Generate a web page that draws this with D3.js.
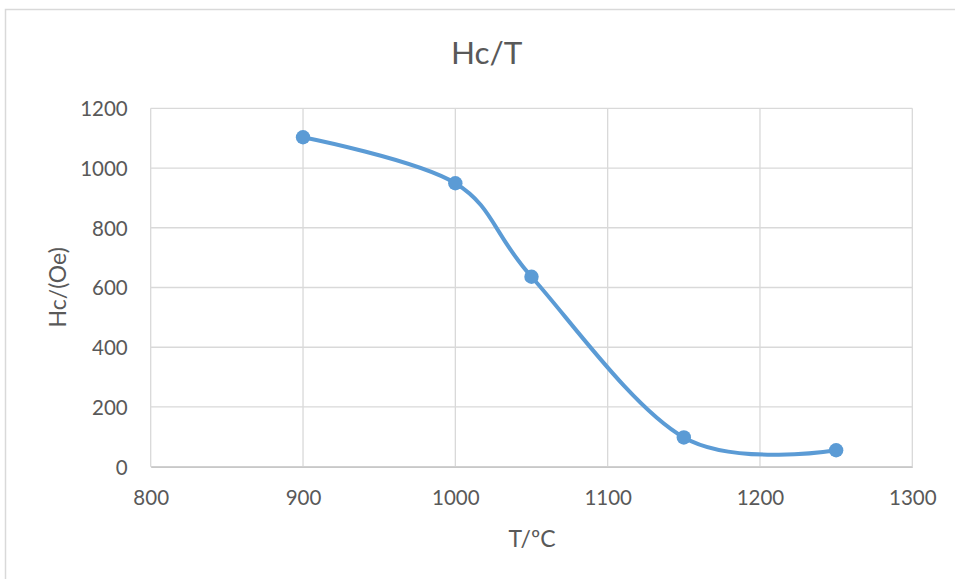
<!DOCTYPE html>
<html>
<head>
<meta charset="utf-8">
<script src="https://cdnjs.cloudflare.com/ajax/libs/d3/7.8.5/d3.min.js"></script>
<style>
    body { margin: 0; background: #ffffff; }
    svg text { font-family: Lato, "Open Sans", sans-serif; fill: #595959; }
</style>
</head>
<body>
<script>
//chart values
var temps = [900, 1000, 1050, 1150, 1250];
var hcValues = [1103, 949, 636, 98, 55];
var xTicks = [800, 900, 1000, 1100, 1200, 1300];
var yTicks = [0, 200, 400, 600, 800, 1000, 1200];
var chartTitle = "Hc/T",
    xTitle = "T/ºC",
    yTitle = "Hc/(Oe)";

function drawChart(){
    var width = 955,
        height = 579;

    var svg = d3.select("body")
        .append("svg")
        .attr("width", width)
        .attr("height", height);

    //outer chart border (runs off right and bottom)
    svg.append("rect")
        .attr("x", 5.5)
        .attr("y", 9.5)
        .attr("width", 960)
        .attr("height", 600)
        .attr("fill", "none")
        .attr("stroke", "#d9d9d9")
        .attr("stroke-width", 1.5);

    //plot area edges
    var left = 150.7, right = 912.3, top = 108.3, bottom = 466.7;

    var x = d3.scaleLinear()
        .domain([800, 1300])
        .range([left, right]);

    var y = d3.scaleLinear()
        .domain([0, 1200])
        .range([bottom, top]);

    //vertical gridlines
    svg.selectAll(".vgrid")
        .data(xTicks)
        .enter()
        .append("line")
        .attr("class", "vgrid")
        .attr("x1", function(d){ return x(d); })
        .attr("x2", function(d){ return x(d); })
        .attr("y1", top)
        .attr("y2", bottom)
        .attr("stroke", "#d9d9d9")
        .attr("stroke-width", 1.3);

    //horizontal gridlines
    svg.selectAll(".hgrid")
        .data(yTicks)
        .enter()
        .append("line")
        .attr("class", "hgrid")
        .attr("x1", left)
        .attr("x2", right)
        .attr("y1", function(d){ return y(d); })
        .attr("y2", function(d){ return y(d); })
        .attr("stroke", "#d9d9d9")
        .attr("stroke-width", 1.3);

    //axes, only used for tick labels and the bottom line
    var xAxis = svg.append("g")
        .attr("transform", "translate(0," + bottom + ")")
        .call(d3.axisBottom(x).tickValues(xTicks).tickSize(0).tickPadding(0).tickFormat(d3.format("d")));
    xAxis.select(".domain")
        .attr("stroke", "#c8c8c8")
        .attr("stroke-width", 1.5);
    xAxis.selectAll("text")
        .attr("dy", null)
        .attr("y", 38)
        .style("font-size", "20.5px");

    var yAxis = svg.append("g")
        .attr("transform", "translate(" + left + ",0)")
        .call(d3.axisLeft(y).tickValues(yTicks).tickSize(0).tickPadding(23).tickFormat(d3.format("d")));
    yAxis.select(".domain").remove();
    yAxis.selectAll("text")
        .attr("dy", "0.36em")
        .style("font-size", "20.5px");

    //titles
    svg.append("text")
        .attr("x", 486.7)
        .attr("y", 64.3)
        .attr("text-anchor", "middle")
        .style("font-size", "31.5px")
        .text(chartTitle);

    svg.append("text")
        .attr("x", 532)
        .attr("y", 546.7)
        .attr("text-anchor", "middle")
        .style("font-size", "23px")
        .text(xTitle);

    svg.append("text")
        .attr("transform", "translate(65.5,287.3) rotate(-90)")
        .attr("text-anchor", "middle")
        .style("font-size", "23px")
        .text(yTitle);

    //smoothed line like excel
    var pts = temps.map(function(t, i){ return [t, hcValues[i]]; });

    var line = d3.line()
        .x(function(d){ return x(d[0]); })
        .y(function(d){ return y(d[1]); })
        .curve(d3.curveCardinal.tension(0));

    svg.append("path")
        .datum(pts)
        .attr("d", line)
        .attr("fill", "none")
        .attr("stroke", "#5b9bd5")
        .attr("stroke-width", 4)
        .attr("stroke-linecap", "round");

    svg.selectAll(".marker")
        .data(pts)
        .enter()
        .append("circle")
        .attr("class", "marker")
        .attr("cx", function(d){ return x(d[0]); })
        .attr("cy", function(d){ return y(d[1]); })
        .attr("r", 7.2)
        .attr("fill", "#5b9bd5");
}

window.onload = drawChart;
</script>
</body>
</html>
